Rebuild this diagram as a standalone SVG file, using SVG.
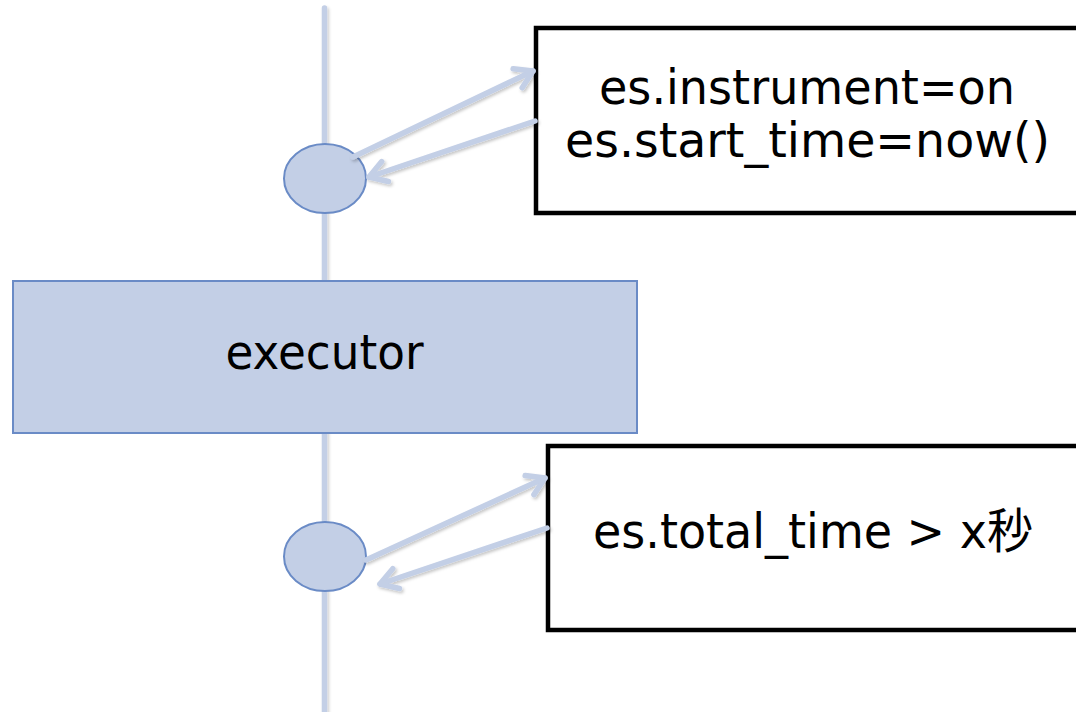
<svg xmlns="http://www.w3.org/2000/svg" width="1076" height="712" viewBox="0 0 1076 712">
  <defs>
    <style>
      .flow { stroke: #c3cfe6; stroke-width: 5.5; fill: none; stroke-linecap: round; filter: url(#soft); }
      .point { fill: #c3cfe6; stroke: #6a8bc6; stroke-width: 2; }
      .proc { fill: #c3cfe6; stroke: #6a8bc6; stroke-width: 2; }
      .note { fill: #ffffff; stroke: #000000; stroke-width: 4.5; }
      .label { font-family: "DejaVu Sans", "Noto Sans CJK JP", sans-serif; font-size: 47.5px; fill: #000000; text-anchor: middle; }
    </style>
    <filter id="soft" filterUnits="userSpaceOnUse" x="0" y="0" width="1076" height="712">
      <feDropShadow dx="1.5" dy="2" stdDeviation="1.5" flood-color="#000000" flood-opacity="0.22"/>
    </filter>
    <marker id="head" viewBox="-24 -14 28 28" refX="0" refY="0" markerWidth="28" markerHeight="28" markerUnits="userSpaceOnUse" orient="auto">
      <path d="M-17,-10.5 L0,0 L-17,10.5" fill="none" stroke="#c3cfe6" stroke-width="5.5" stroke-linecap="round" stroke-linejoin="round"/>
    </marker>
  </defs>

  <!-- main timeline -->
  <g id="timeline">
    <line class="flow" x1="324.5" y1="8" x2="324.5" y2="712"/>
  </g>

  <!-- hook before the executor -->
  <g id="hook-start">
    <ellipse class="point" cx="325" cy="178.5" rx="41" ry="34.5"/>
  </g>

  <g id="executor">
    <rect class="proc" x="13" y="281" width="624" height="152"/>
    <text class="label" x="324.5" y="369" font-size="52" textLength="198" lengthAdjust="spacingAndGlyphs">executor</text>
  </g>

  <!-- hook after the executor -->
  <g id="hook-end">
    <ellipse class="point" cx="325" cy="556.5" rx="41" ry="34.5"/>
  </g>

  <g id="note-start">
    <rect class="note" x="536" y="28" width="545" height="185"/>
    <text class="label" x="807" y="104" textLength="416" lengthAdjust="spacingAndGlyphs">es.instrument=on</text>
    <text class="label" x="807.5" y="157" textLength="485" lengthAdjust="spacingAndGlyphs">es.start_time=now()</text>
  </g>

  <g id="note-end">
    <rect class="note" x="548" y="446" width="533" height="184"/>
    <text class="label" x="813" y="548" textLength="440" lengthAdjust="spacingAndGlyphs">es.total_time &gt; x秒</text>
  </g>

  <!-- calls between hooks and notes -->
  <g id="connectors">
    <line class="flow" x1="353" y1="157" x2="533" y2="71" marker-end="url(#head)"/>
    <line class="flow" x1="535" y1="121" x2="369" y2="177" marker-end="url(#head)"/>
    <line class="flow" x1="366" y1="560" x2="545" y2="478" marker-end="url(#head)"/>
    <line class="flow" x1="547" y1="528" x2="380" y2="584" marker-end="url(#head)"/>
  </g>
</svg>
